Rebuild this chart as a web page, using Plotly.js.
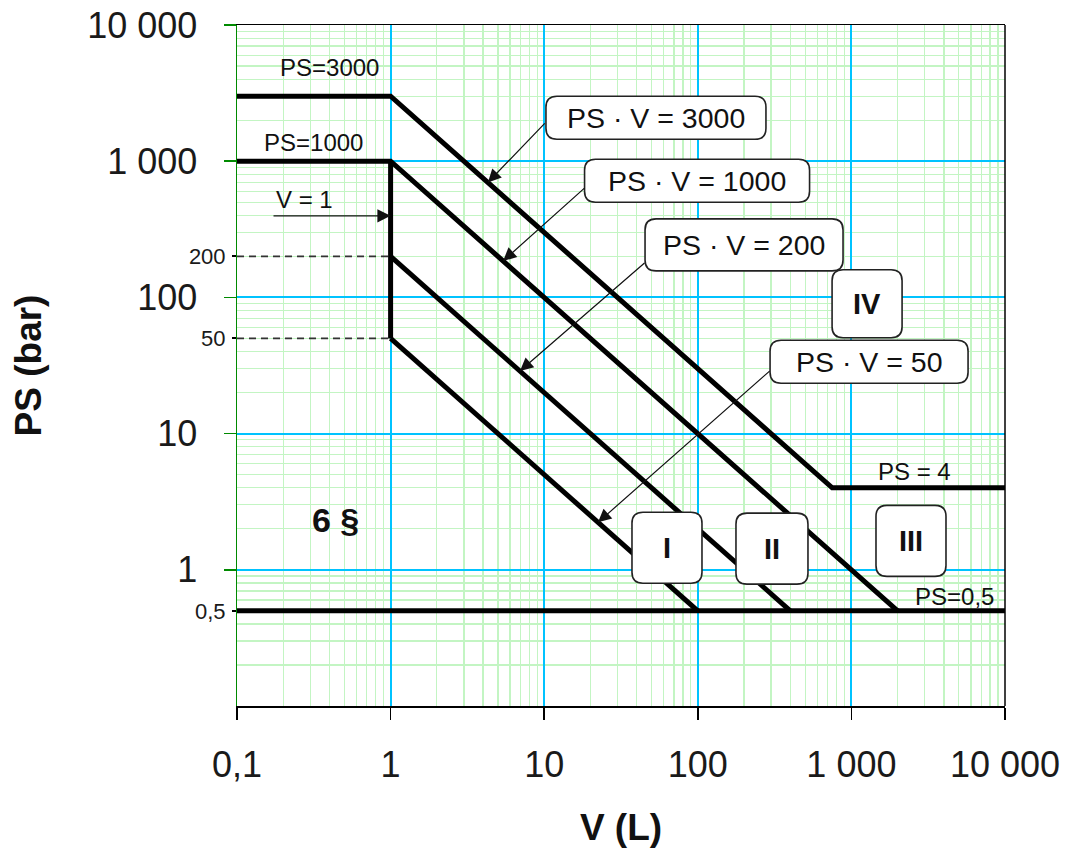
<!DOCTYPE html>
<html>
<head>
<meta charset="utf-8">
<script src="https://cdn.plot.ly/plotly-3.0.1.min.js"></script>
<style>html,body{margin:0;padding:0;background:#fff;}#chart{width:1075px;height:856px;}</style>
</head>
<body>
<div id="chart"></div>
<script>
// ---- data (V in litres, PS in bar) ----
const limit3000V  = [0.1, 1, 750, 10000];
const limit3000PS = [3000, 3000, 4, 4];
const limit1000V  = [0.1, 1, 2000];
const limit1000PS = [1000, 1000, 0.5];
const limitV1V    = [1, 1];
const limitV1PS   = [1000, 50];
const limit200V   = [1, 400];
const limit200PS  = [200, 0.5];
const limit50V    = [1, 100];
const limit50PS   = [50, 0.5];
const limitPS05V  = [0.1, 10000];
const limitPS05PS = [0.5, 0.5];
const dash200V    = [0.1, 1];
const dash200PS   = [200, 200];
const dash50V     = [0.1, 1];
const dash50PS    = [50, 50];

const xTickVals = [0.1, 1, 10, 100, 1000, 10000];
const xTickText = ['0,1', '1', '10', '100', '1 000', '10 000'];
const yTickVals = [1, 10, 100, 1000, 10000];
const yTickText = ['1', '10', '100', '1 000', '10 000'];
const ySmallVals = [0.5, 50, 200];
const ySmallText = ['0,5', '50', '200'];

// minor grid positions (2..9 in each decade)
function minorVals(lo, hi) {
  const out = [];
  for (let e = lo; e < hi; e++) for (let m = 2; m <= 9; m++) out.push(m * Math.pow(10, e));
  return out;
}

const FONT = 'Liberation Sans, Arial, Helvetica, sans-serif';
const thick = {color: '#000', width: 5};
const dashed = {color: '#333', width: 1.6, dash: '7px,5px'};

const traces = [
  {x: dash200V, y: dash200PS, mode: 'lines', line: dashed},
  {x: dash50V, y: dash50PS, mode: 'lines', line: dashed},
  {x: limit3000V, y: limit3000PS, mode: 'lines', line: thick},
  {x: limit1000V, y: limit1000PS, mode: 'lines', line: thick},
  {x: limitV1V, y: limitV1PS, mode: 'lines', line: thick},
  {x: limit200V, y: limit200PS, mode: 'lines', line: thick},
  {x: limit50V, y: limit50PS, mode: 'lines', line: thick},
  {x: limitPS05V, y: limitPS05PS, mode: 'lines', line: thick},
  {x: [1], y: [1], yaxis: 'y2', mode: 'markers', marker: {opacity: 0}, hoverinfo: 'skip'}
].map(t => Object.assign({showlegend: false, hoverinfo: 'skip', cliponaxis: false}, t));

// rounded box outline (pixel-sized, anchored at a data point)
function roundRect(w, h, r) {
  const a = w / 2, b = h / 2;
  return 'M ' + (-a + r) + ' ' + (-b) + ' L ' + (a - r) + ' ' + (-b) +
    ' Q ' + a + ' ' + (-b) + ' ' + a + ' ' + (-b + r) + ' L ' + a + ' ' + (b - r) +
    ' Q ' + a + ' ' + b + ' ' + (a - r) + ' ' + b + ' L ' + (-a + r) + ' ' + b +
    ' Q ' + (-a) + ' ' + b + ' ' + (-a) + ' ' + (b - r) + ' L ' + (-a) + ' ' + (-b + r) +
    ' Q ' + (-a) + ' ' + (-b) + ' ' + (-a + r) + ' ' + (-b) + ' Z';
}
const shapes = [
  {type: 'line', xref: 'paper', yref: 'paper', x0: 1, x1: 1, y0: 0, y1: 1, line: {color: '#000', width: 1.5}}
];
const annotations = [];

function box(text, x, y, w, h, size, bold) {
  shapes.push({type: 'path', xref: 'x', yref: 'y', xsizemode: 'pixel', ysizemode: 'pixel',
    xanchor: x, yanchor: y, path: roundRect(w, h, 11),
    fillcolor: '#fff', line: {color: '#222', width: 1.6}, layer: 'above'});
  annotations.push({x: Math.log10(x), y: Math.log10(y), xref: 'x', yref: 'y', showarrow: false,
    text: bold ? '<b>' + text + '</b>' : text,
    font: {family: FONT, size: size, color: '#111'}, align: 'center', valign: 'middle'});
}
function label(text, x, y, size, bold) {
  annotations.push({x: Math.log10(x), y: Math.log10(y), xref: 'x', yref: 'y', showarrow: false,
    text: bold ? '<b>' + text + '</b>' : text, font: {family: FONT, size: size, color: '#111'}});
}
function arrow(x0, y0, x1, y1) {
  annotations.push({x: Math.log10(x1), y: Math.log10(y1), xref: 'x', yref: 'y',
    ax: Math.log10(x0), ay: Math.log10(y0), axref: 'x', ayref: 'y',
    text: '', showarrow: true, arrowhead: 2, arrowsize: 2.2, arrowwidth: 1.2, arrowcolor: '#111',
    standoff: 0, startstandoff: 0});
}

label('PS=3000', 0.403, 4850, 24);
label('PS=1000', 0.317, 1365, 24);
label('V = 1', 0.277, 521, 24);
label('PS = 4', 2594, 5.24, 24);
label('PS=0,5', 4721, 0.634, 24);
label('6 §', 0.435, 2.33, 34, true);
arrow(0.169, 397, 1, 397);
arrow(10.3, 1946, 4.3, 698);
arrow(18.7, 649, 5.4, 185);
arrow(46, 183, 6.95, 28.8);
arrow(300, 29.4, 22.4, 2.23);
box('PS · V = 3000', 53.4, 2083, 220, 43, 28.5);
box('PS · V = 1000', 98.9, 718, 225, 43, 28.5);
box('PS · V = 200', 200, 243, 198, 52, 28.5);
box('IV', 1265, 89.8, 70, 68, 29, true);
box('PS · V = 50', 1303, 33.7, 198, 43, 28.5);
box('I', 63, 1.45, 70, 71, 29, true);
box('II', 304, 1.43, 72, 71, 29, true);
box('III', 2443, 1.63, 70, 71, 29, true);

const layout = {
  width: 1075, height: 856,
  margin: {l: 237, r: 70, t: 25, b: 150},
  paper_bgcolor: '#fff', plot_bgcolor: '#fff',
  font: {family: FONT, color: '#111'},
  showlegend: false,
  xaxis: {
    type: 'log', range: [-1, 4], tickmode: 'array', tickvals: xTickVals, ticktext: xTickText,
    ticks: 'outside', ticklen: 12, tickwidth: 1.5, tickcolor: '#000',
    showline: true, linecolor: '#000', linewidth: 1.5, mirror: true,
    showgrid: true, gridcolor: '#00c3ff', gridwidth: 2, zeroline: false,
    tickfont: {family: FONT, size: 36, color: '#1a1a1a'}, ticklabelstandoff: 14,
    minor: {tickmode: 'array', tickvals: minorVals(-1, 4), showgrid: true, gridcolor: '#c3f5c3', gridwidth: 1.3, ticks: ''},
    title: {text: '<b>V (L)</b>', font: {family: FONT, size: 37, color: '#111'}, standoff: 30}
  },
  yaxis: {
    type: 'log', range: [-1, 4], tickmode: 'array', tickvals: yTickVals, ticktext: yTickText,
    ticks: 'outside', ticklen: 12, tickwidth: 1.5, tickcolor: '#008a00',
    showline: true, linecolor: '#008a00', linewidth: 1.5, mirror: false,
    showgrid: true, gridcolor: '#00c3ff', gridwidth: 2, zeroline: false,
    tickfont: {family: FONT, size: 36, color: '#1a1a1a'}, ticklabelstandoff: 19,
    minor: {tickmode: 'array', tickvals: minorVals(-1, 4), showgrid: true, gridcolor: '#c3f5c3', gridwidth: 1.3, ticks: ''},
    title: {text: '<b>PS (bar)</b>', font: {family: FONT, size: 37, color: '#111'}, standoff: 34}
  },
  yaxis2: {
    type: 'log', range: [-1, 4], overlaying: 'y', side: 'left', anchor: 'x',
    tickmode: 'array', tickvals: ySmallVals, ticktext: ySmallText,
    ticks: 'outside', ticklen: 4, tickwidth: 2, tickcolor: '#000',
    showgrid: false, zeroline: false, showline: false,
    tickfont: {family: FONT, size: 22, color: '#1a1a1a'}, ticklabelstandoff: 2
  },
  shapes: shapes,
  annotations: annotations
};

Plotly.newPlot('chart', traces, layout, {displayModeBar: false, staticPlot: true});
</script>
</body>
</html>
